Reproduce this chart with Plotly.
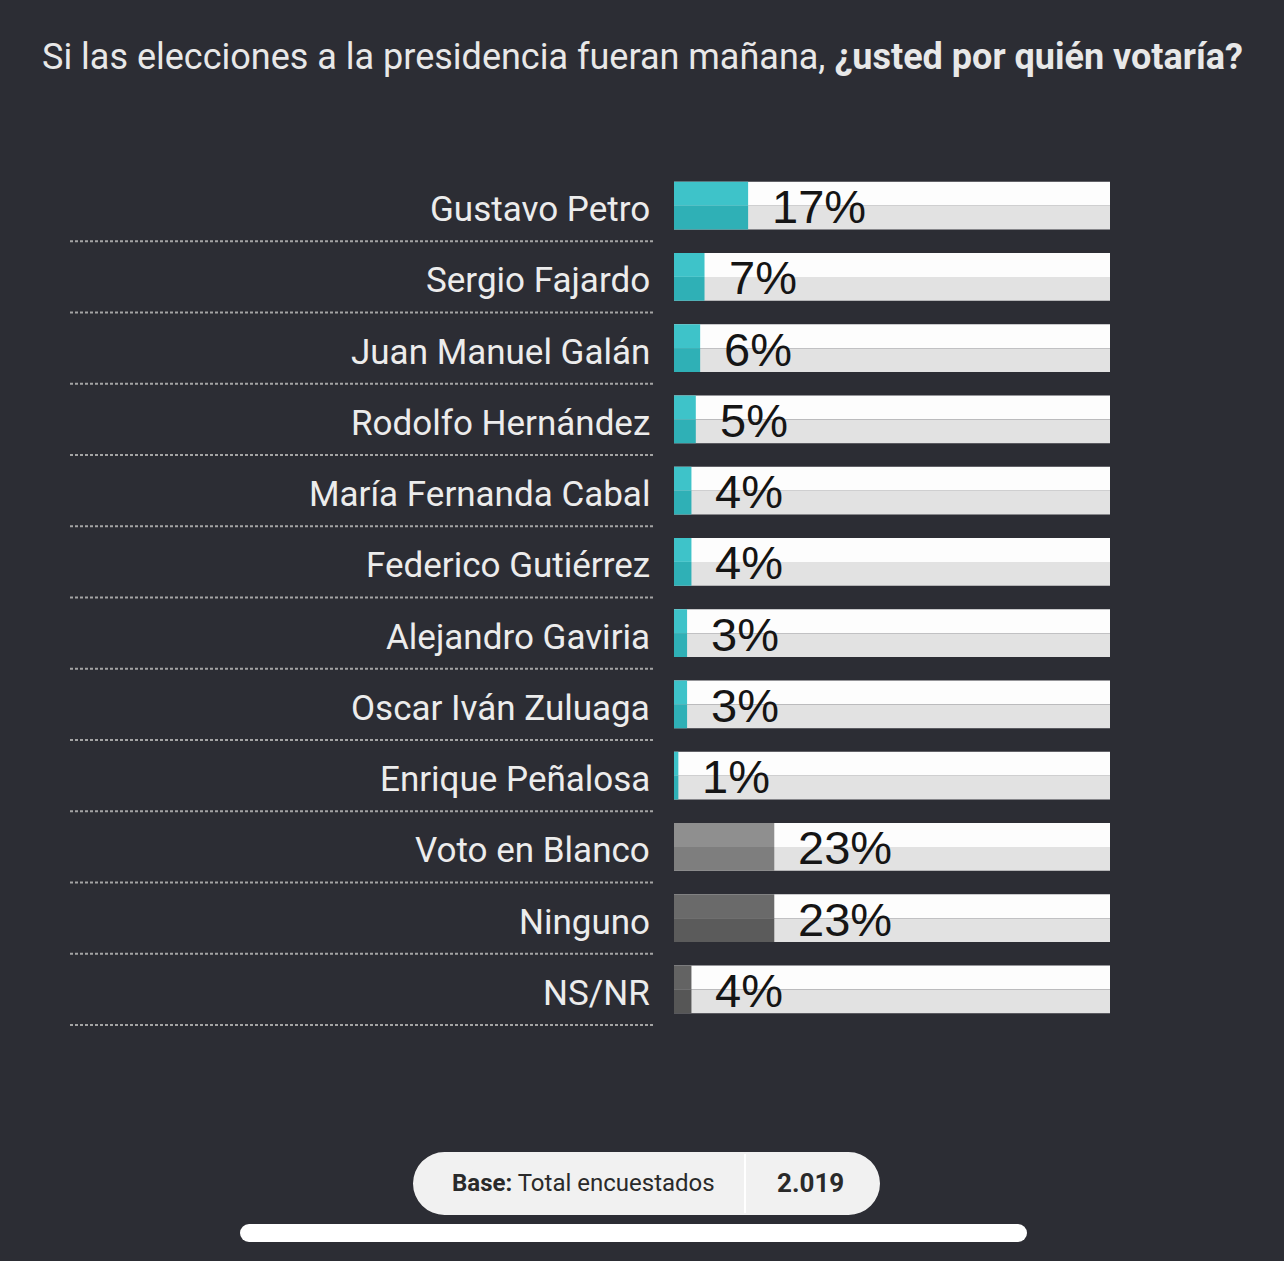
import plotly.graph_objects as go

# Encuesta: intención de voto presidencial
candidatos = [
    "Gustavo Petro", "Sergio Fajardo", "Juan Manuel Galán", "Rodolfo Hernández",
    "María Fernanda Cabal", "Federico Gutiérrez", "Alejandro Gaviria",
    "Oscar Iván Zuluaga", "Enrique Peñalosa", "Voto en Blanco", "Ninguno", "NS/NR",
]
porcentajes = [17, 7, 6, 5, 4, 4, 3, 3, 1, 23, 23, 4]
grupos = ["candidato"] * 9 + ["blanco", "ninguno", "nsnr"]
base_total = "2.019"

# top / bottom tone for each group
paleta = {
    "candidato": ("#3ec3c9", "#2fb0b6"),
    "blanco": ("#8f8f8f", "#7e7e7e"),
    "ninguno": ("#6a6a6a", "#5b5b5b"),
    "nsnr": ("#636363", "#565656"),
}
fondo = ("#fdfdfd", "#e2e2e2")
BG = "#2c2d34"

W, H = 1284, 1261
ML, MR, MT, MB = 674, 174, 170, 235
PW, PH = W - ML - MR, H - MT - MB


def px_x(X):
    return (X - ML) / PW


def px_y(Y):
    return (H - MB - Y) / PH


n = len(candidatos)
half = 0.335

fig = go.Figure()

# 100% track, split in two tones
fig.add_trace(go.Bar(y=candidatos, x=[100] * n, orientation="h", width=half, offset=-half,
                     marker=dict(color=fondo[0], line_width=0), hoverinfo="skip"))
fig.add_trace(go.Bar(y=candidatos, x=[100] * n, orientation="h", width=half, offset=0,
                     marker=dict(color=fondo[1], line_width=0), hoverinfo="skip"))

# actual values
fig.add_trace(go.Bar(y=candidatos, x=porcentajes, orientation="h", width=half, offset=-half,
                     marker=dict(color=[paleta[g][0] for g in grupos], line_width=0),
                     hoverinfo="skip"))
fig.add_trace(go.Bar(y=candidatos, x=porcentajes, orientation="h", width=half, offset=0,
                     marker=dict(color=[paleta[g][1] for g in grupos], line_width=0),
                     hoverinfo="skip"))

annotations = []
shapes = []
for i, (nombre, val) in enumerate(zip(candidatos, porcentajes)):
    annotations.append(dict(x=val, y=nombre, xref="x", yref="y", text=f"{val}%",
                            showarrow=False, xanchor="left", xshift=22, yshift=-1,
                            font=dict(family="Liberation Sans, Arial", size=47, color="#151515")))
    annotations.append(dict(x=px_x(652), y=nombre, xref="paper", yref="y", text=nombre,
                            showarrow=False, xanchor="right", yshift=-4,
                            font=dict(family="Roboto", size=35, color="#ececec")))
    shapes.append(dict(type="line", xref="paper", yref="y", x0=px_x(70), x1=px_x(655),
                       y0=i + 0.5, y1=i + 0.5,
                       line=dict(color="#a4a4a4", width=2, dash="3px,2px")))

# title
annotations.append(dict(x=px_x(642), y=px_y(57), xref="paper", yref="paper",
                        text="Si las elecciones a la presidencia fueran mañana, <b>¿usted por quién votaría?</b>",
                        showarrow=False, xanchor="center", yanchor="middle",
                        font=dict(family="Roboto", size=36, color="#e8e8e8")))

# base pill
def pill(x0, x1, y0, y1, color):
    r = (y1 - y0) / 2
    out = [dict(type="rect", xref="paper", yref="paper", x0=px_x(x0 + r), x1=px_x(x1 - r),
                y0=px_y(y1), y1=px_y(y0), fillcolor=color, line_width=0, layer="below")]
    for cx in (x0 + r, x1 - r):
        out.append(dict(type="circle", xref="paper", yref="paper", x0=px_x(cx - r), x1=px_x(cx + r),
                        y0=px_y(y1), y1=px_y(y0), fillcolor=color, line_width=0, layer="below"))
    return out


shapes += pill(413, 880, 1152, 1215, "#f1f1f1")
shapes.append(dict(type="line", xref="paper", yref="paper", x0=px_x(745), x1=px_x(745),
                   y0=px_y(1213), y1=px_y(1154), line=dict(color="#ffffff", width=2)))
shapes += pill(240, 1027, 1224, 1242, "#ffffff")

annotations.append(dict(x=px_x(583), y=px_y(1183), xref="paper", yref="paper",
                        text="<b>Base:</b> Total encuestados", showarrow=False,
                        xanchor="center", yanchor="middle",
                        font=dict(family="Roboto", size=24, color="#2a2a2a")))
annotations.append(dict(x=px_x(810), y=px_y(1183), xref="paper", yref="paper",
                        text=f"<b>{base_total}</b>", showarrow=False,
                        xanchor="center", yanchor="middle",
                        font=dict(family="Roboto", size=26, color="#2a2a2a")))

fig.update_layout(
    width=W, height=H,
    margin=dict(l=ML, r=MR, t=MT, b=MB, pad=0),
    paper_bgcolor=BG, plot_bgcolor=BG,
    barmode="overlay", showlegend=False,
    xaxis=dict(range=[0, 100], visible=False, fixedrange=True),
    yaxis=dict(categoryorder="array", categoryarray=candidatos, autorange="reversed",
               range=[n - 0.5, -0.5], showticklabels=False, showgrid=False,
               zeroline=False, fixedrange=True),
    annotations=annotations, shapes=shapes,
)

# drop the browser's default body margin so the figure fills the window
fig.write_html("out.html", config={"displayModeBar": False},
               post_script="document.body.style.margin='0';document.body.style.overflow='hidden';")
